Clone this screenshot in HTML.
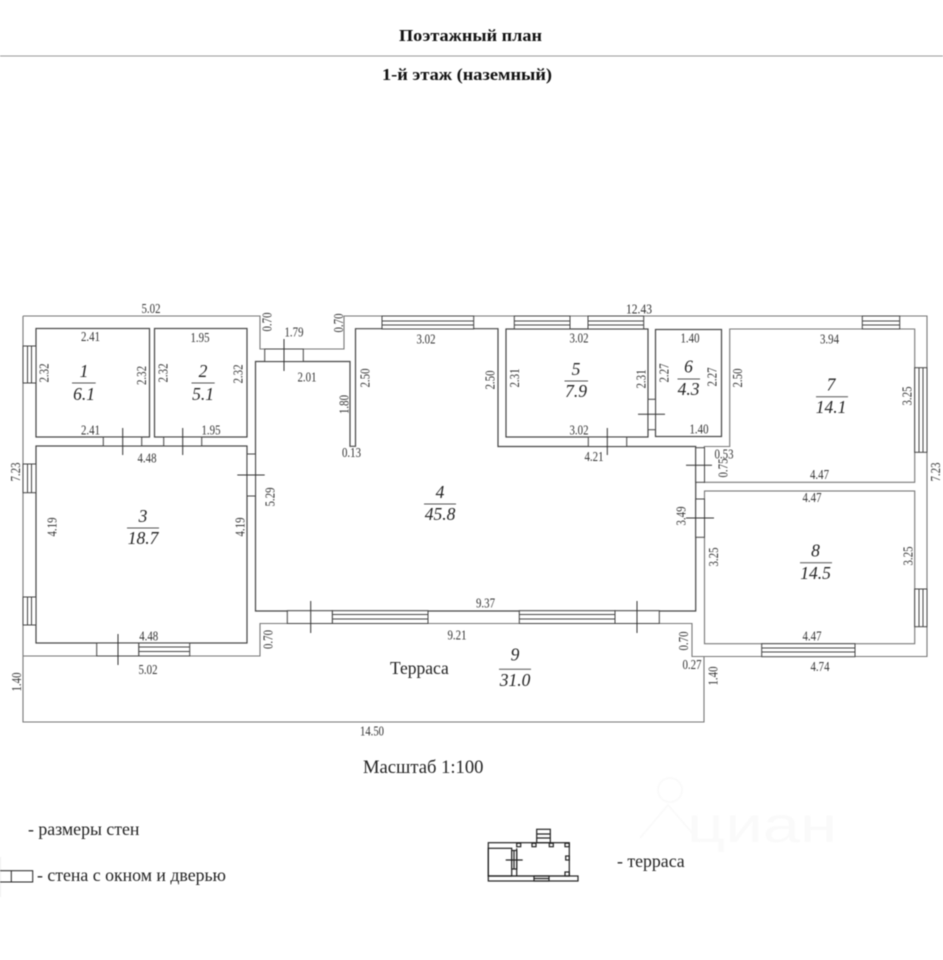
<!DOCTYPE html>
<html><head><meta charset="utf-8"><style>
html,body{margin:0;padding:0;background:#fff;width:943px;height:960px;overflow:hidden}
svg{display:block;filter:blur(.45px)}
text{font-family:"Liberation Serif","Noto Serif CJK SC",serif;fill:#222}
.d text{font-size:14px;text-anchor:middle;fill:#333}
.n text{font-size:17.5px;font-style:italic;text-anchor:middle;fill:#222}
.t{font-weight:bold;font-size:17px;text-anchor:middle;fill:#111}
.l{font-size:17.8px;fill:#222}
.w{fill:none;stroke:#777;stroke-width:1.1}
.r{fill:none;stroke:#444;stroke-width:1.2}
.k{fill:none;stroke:#444;stroke-width:1}
.x{fill:none;stroke:#333;stroke-width:1}
</style></head><body>
<svg width="943" height="960" viewBox="0 0 943 960" xmlns="http://www.w3.org/2000/svg">
<text class="t" x="470.5" y="41" textLength="143" lengthAdjust="spacingAndGlyphs">Поэтажный план</text>
<line x1="0" y1="56" x2="943" y2="56" stroke="#999" stroke-width="1"/>
<text class="t" x="467" y="80" textLength="170" lengthAdjust="spacingAndGlyphs">1-й этаж (наземный)</text>

<!-- outer walls -->
<path class="w" d="M23 316H260V349H344V316H927V656.5H692V623.5H260V656H23V316M23 656V722H704V656.5"/>
<!-- rooms -->
<rect class="r" x="36" y="328.5" width="113.5" height="108.5"/>
<rect class="r" x="154.5" y="328.5" width="92.5" height="108.5"/>
<rect class="r" x="36" y="446" width="211" height="197"/>
<path class="r" d="M255.5 361.5H350V446.3H355.5V328.7H498V446.5H695.7V611H255.5Z"/>
<rect class="r" x="506" y="329" width="142" height="108"/>
<rect class="r" x="655.5" y="329.5" width="66" height="107"/>
<path class="w" d="M729.7 329H914.7V482.3H704.3V446.5H729.7Z"/>
<rect class="w" x="704.5" y="491" width="210.2" height="152.7"/>

<!-- windows horizontal -->
<g class="k">
<rect x="382" y="316" width="91.7" height="13" fill="#fff"/><path d="M382 321H473.7M382 325H473.7"/>
<rect x="514.3" y="316" width="55.7" height="13" fill="#fff"/><path d="M514.3 321H570M514.3 325H570"/>
<rect x="588" y="316" width="55.7" height="13" fill="#fff"/><path d="M588 321H643.7M588 325H643.7"/>
<rect x="862.3" y="316" width="37.4" height="13" fill="#fff"/><path d="M862.3 321H899.7M862.3 325H899.7"/>
<rect x="138.7" y="643" width="51" height="13" fill="#fff"/><path d="M138.7 647H189.7M138.7 651.5H189.7"/>
<rect x="332.3" y="610.7" width="95.7" height="12.8" fill="#fff"/><path d="M332.3 614.5H428M332.3 619H428"/>
<rect x="519.3" y="610.7" width="95.7" height="12.8" fill="#fff"/><path d="M519.3 614.5H615M519.3 619H615"/>
<rect x="761.7" y="643.7" width="93.3" height="13" fill="#fff"/><path d="M761.7 648H855M761.7 652H855"/>
<!-- windows vertical -->
<rect x="23" y="346" width="13" height="37" fill="#fff"/><path d="M27.5 346V383M31.5 346V383"/>
<rect x="23" y="464" width="13" height="28.7" fill="#fff"/><path d="M27.5 464V492.7M31.5 464V492.7"/>
<rect x="23" y="597" width="13" height="28" fill="#fff"/><path d="M27.5 597V625M31.5 597V625"/>
<rect x="914.7" y="367.7" width="12.3" height="84.6" fill="#fff"/><path d="M919 367.7V452.3M923 367.7V452.3"/>
<rect x="914.7" y="589" width="12.3" height="37.7" fill="#fff"/><path d="M919 589V626.7M923 589V626.7"/>
<!-- doors -->
<rect x="103.3" y="437" width="38.4" height="9" fill="#fff"/><path class="x" d="M122.7 428V455"/>
<rect x="163.7" y="437" width="38" height="9" fill="#fff"/><path class="x" d="M182.7 428V455"/>
<rect x="264.7" y="349" width="38.6" height="12.5" fill="#fff"/><path class="x" d="M284 339V371"/>
<rect x="247" y="454" width="8.5" height="42" fill="#fff"/><path class="x" d="M237.3 475H264.7"/>
<rect x="588.3" y="437" width="38.4" height="9.5" fill="#fff"/><path class="x" d="M607.3 428V455"/>
<rect x="648" y="399.3" width="7.5" height="30.4" fill="#fff"/><path class="x" d="M638 414.3H665"/>
<rect x="695.7" y="447.7" width="8.8" height="34.6" fill="#fff"/><path class="x" d="M686 465.3H712"/>
<rect x="695.7" y="499" width="8.8" height="38.3" fill="#fff"/><path class="x" d="M686 518H714"/>
<rect x="287.3" y="610.7" width="45" height="12.8" fill="#fff"/><path class="x" d="M310.7 601V633"/>
<rect x="615" y="610.7" width="44.3" height="12.8" fill="#fff"/><path class="x" d="M637 601V633"/>
<rect x="96.7" y="643" width="42" height="13" fill="#fff"/><path class="x" d="M118 634V665"/>
</g>

<!-- horizontal dimension labels -->
<g class="d">
<text x="151" y="313" textLength="19" lengthAdjust="spacingAndGlyphs">5.02</text>
<text x="90.5" y="341" textLength="19" lengthAdjust="spacingAndGlyphs">2.41</text>
<text x="200" y="342" textLength="19" lengthAdjust="spacingAndGlyphs">1.95</text>
<text x="90.5" y="434.5" textLength="19" lengthAdjust="spacingAndGlyphs">2.41</text>
<text x="211" y="434.5" textLength="19" lengthAdjust="spacingAndGlyphs">1.95</text>
<text x="147" y="462.5" textLength="19" lengthAdjust="spacingAndGlyphs">4.48</text>
<text x="294" y="336.5" textLength="19" lengthAdjust="spacingAndGlyphs">1.79</text>
<text x="307" y="381.5" textLength="19" lengthAdjust="spacingAndGlyphs">2.01</text>
<text x="148.7" y="640.5" textLength="19" lengthAdjust="spacingAndGlyphs">4.48</text>
<text x="148" y="674" textLength="19" lengthAdjust="spacingAndGlyphs">5.02</text>
<text x="351.5" y="457" textLength="19" lengthAdjust="spacingAndGlyphs">0.13</text>
<text x="426" y="343.5" textLength="19" lengthAdjust="spacingAndGlyphs">3.02</text>
<text x="579" y="342.5" textLength="19" lengthAdjust="spacingAndGlyphs">3.02</text>
<text x="579" y="434.5" textLength="19" lengthAdjust="spacingAndGlyphs">3.02</text>
<text x="594" y="461" textLength="19" lengthAdjust="spacingAndGlyphs">4.21</text>
<text x="639" y="313.5" textLength="26" lengthAdjust="spacingAndGlyphs">12.43</text>
<text x="690" y="342.5" textLength="19" lengthAdjust="spacingAndGlyphs">1.40</text>
<text x="699" y="433.5" textLength="19" lengthAdjust="spacingAndGlyphs">1.40</text>
<text x="829.5" y="343.5" textLength="19" lengthAdjust="spacingAndGlyphs">3.94</text>
<text x="819.5" y="479" textLength="19" lengthAdjust="spacingAndGlyphs">4.47</text>
<text x="724" y="458.5" textLength="19" lengthAdjust="spacingAndGlyphs">0.53</text>
<text x="812" y="502" textLength="19" lengthAdjust="spacingAndGlyphs">4.47</text>
<text x="812" y="640.5" textLength="19" lengthAdjust="spacingAndGlyphs">4.47</text>
<text x="820" y="671" textLength="19" lengthAdjust="spacingAndGlyphs">4.74</text>
<text x="692" y="669" textLength="19" lengthAdjust="spacingAndGlyphs">0.27</text>
<text x="485.5" y="607.5" textLength="19" lengthAdjust="spacingAndGlyphs">9.37</text>
<text x="457" y="639.5" textLength="19" lengthAdjust="spacingAndGlyphs">9.21</text>
<text x="372" y="735.5" textLength="24" lengthAdjust="spacingAndGlyphs">14.50</text>
<!-- rotated -->
<text transform="translate(271.7,322) rotate(-90)" textLength="19" lengthAdjust="spacingAndGlyphs">0.70</text>
<text transform="translate(48.7,373) rotate(-90)" textLength="19" lengthAdjust="spacingAndGlyphs">2.32</text>
<text transform="translate(146.2,375.5) rotate(-90)" textLength="19" lengthAdjust="spacingAndGlyphs">2.32</text>
<text transform="translate(167.7,373) rotate(-90)" textLength="19" lengthAdjust="spacingAndGlyphs">2.32</text>
<text transform="translate(242.7,374) rotate(-90)" textLength="19" lengthAdjust="spacingAndGlyphs">2.32</text>
<text transform="translate(20.2,472) rotate(-90)" textLength="19" lengthAdjust="spacingAndGlyphs">7.23</text>
<text transform="translate(274.7,497) rotate(-90)" textLength="19" lengthAdjust="spacingAndGlyphs">5.29</text>
<text transform="translate(56.7,527) rotate(-90)" textLength="19" lengthAdjust="spacingAndGlyphs">4.19</text>
<text transform="translate(244.7,527) rotate(-90)" textLength="19" lengthAdjust="spacingAndGlyphs">4.19</text>
<text transform="translate(21.2,682) rotate(-90)" textLength="19" lengthAdjust="spacingAndGlyphs">1.40</text>
<text transform="translate(272.7,639.5) rotate(-90)" textLength="19" lengthAdjust="spacingAndGlyphs">0.70</text>
<text transform="translate(343.2,323) rotate(-90)" textLength="19" lengthAdjust="spacingAndGlyphs">0.70</text>
<text transform="translate(369.4,378) rotate(-90)" textLength="19" lengthAdjust="spacingAndGlyphs">2.50</text>
<text transform="translate(348.4,404.5) rotate(-90)" textLength="19" lengthAdjust="spacingAndGlyphs">1.80</text>
<text transform="translate(494.7,380) rotate(-90)" textLength="19" lengthAdjust="spacingAndGlyphs">2.50</text>
<text transform="translate(519.2,378) rotate(-90)" textLength="19" lengthAdjust="spacingAndGlyphs">2.31</text>
<text transform="translate(645.7,379) rotate(-90)" textLength="19" lengthAdjust="spacingAndGlyphs">2.31</text>
<text transform="translate(668.7,373) rotate(-90)" textLength="19" lengthAdjust="spacingAndGlyphs">2.27</text>
<text transform="translate(716.7,377) rotate(-90)" textLength="19" lengthAdjust="spacingAndGlyphs">2.27</text>
<text transform="translate(742.2,378) rotate(-90)" textLength="19" lengthAdjust="spacingAndGlyphs">2.50</text>
<text transform="translate(911.7,396) rotate(-90)" textLength="19" lengthAdjust="spacingAndGlyphs">3.25</text>
<text transform="translate(727.4,468) rotate(-90)" textLength="19" lengthAdjust="spacingAndGlyphs">0.75</text>
<text transform="translate(940.2,472) rotate(-90)" textLength="19" lengthAdjust="spacingAndGlyphs">7.23</text>
<text transform="translate(685.7,516) rotate(-90)" textLength="19" lengthAdjust="spacingAndGlyphs">3.49</text>
<text transform="translate(718.2,557) rotate(-90)" textLength="19" lengthAdjust="spacingAndGlyphs">3.25</text>
<text transform="translate(912.7,556) rotate(-90)" textLength="19" lengthAdjust="spacingAndGlyphs">3.25</text>
<text transform="translate(688.2,641) rotate(-90)" textLength="19" lengthAdjust="spacingAndGlyphs">0.70</text>
<text transform="translate(717.7,676) rotate(-90)" textLength="19" lengthAdjust="spacingAndGlyphs">1.40</text>
</g>

<!-- room numbers -->
<g class="n">
<text x="84" y="377">1</text><text x="84" y="400">6.1</text>
<text x="203" y="377">2</text><text x="203" y="400">5.1</text>
<text x="143" y="522">3</text><text x="143" y="544">18.7</text>
<text x="440" y="498">4</text><text x="440" y="520">45.8</text>
<text x="576" y="375">5</text><text x="576" y="397">7.9</text>
<text x="688.5" y="372.7">6</text><text x="688.5" y="395">4.3</text>
<text x="831" y="390.7">7</text><text x="831" y="413">14.1</text>
<text x="815.5" y="556.7">8</text><text x="815.5" y="579">14.5</text>
<text x="515" y="660.7">9</text><text x="515" y="686">31.0</text>
</g>
<g stroke="#555" stroke-width="1" fill="none">
<path d="M72 383H95.7M191.5 383H214.7M127 528H159M424 504H456M564.5 381H588M677.5 379H700M816 396.7H848M800 562.7H832M499 669.3H531"/>
</g>

<text x="390" y="674" style="font-size:17.5px" fill="#222">Терраса</text>
<text x="363" y="773" style="font-size:18.6px" fill="#222">Масштаб 1:100</text>

<!-- watermark -->
<g fill="none" stroke="#fafafa" stroke-width="2">
<circle cx="670" cy="790" r="12"/>
<path d="M640 838L668 805L700 842"/>
</g>
<text x="687" y="842" textLength="150" lengthAdjust="spacingAndGlyphs" style="font-family:'Liberation Sans',sans-serif;font-size:50px;fill:#fafafa">циан</text>

<!-- legend -->
<text class="l" x="28" y="835">- размеры стен</text>
<path d="M0.5 857V897" stroke="#eee" stroke-width="1"/>
<rect x="-2" y="870.7" width="34.7" height="11.3" fill="none" stroke="#222" stroke-width="1"/>
<line x1="11.3" y1="870.7" x2="11.3" y2="882" stroke="#222" stroke-width="1"/>
<text class="l" x="37" y="881">- стена с окном и дверью</text>

<!-- mini plan -->
<g fill="none" stroke="#222" stroke-width="1.2">
<rect x="488.3" y="842.7" width="81" height="33.3"/>
<rect x="488.3" y="876" width="89.7" height="5"/>
<rect x="488.3" y="848.3" width="23.4" height="27.7"/>
<path d="M516.7 848.3V876"/>
<rect x="511.7" y="850.5" width="5" height="18.5" fill="#fff"/>
<path d="M505.7 860H522.7M514 850V869"/>
<rect x="536.7" y="829.3" width="13.6" height="13.4"/><path d="M536.7 834H550.3M536.7 838H550.3"/>
<rect x="534" y="876" width="15" height="5"/><path d="M534 878.5H549"/>
<rect x="516.7" y="843.3" width="4" height="3.4"/>
<rect x="532" y="843.3" width="4" height="3.4"/>
<rect x="549.3" y="843.3" width="4" height="3.4"/>
<rect x="565" y="843.3" width="4.3" height="3.4"/>
<rect x="565.7" y="856" width="3.6" height="4"/>
<rect x="565" y="872" width="4.3" height="4"/>
</g>
<text class="l" x="617" y="867">- терраса</text>
</svg>
</body></html>
